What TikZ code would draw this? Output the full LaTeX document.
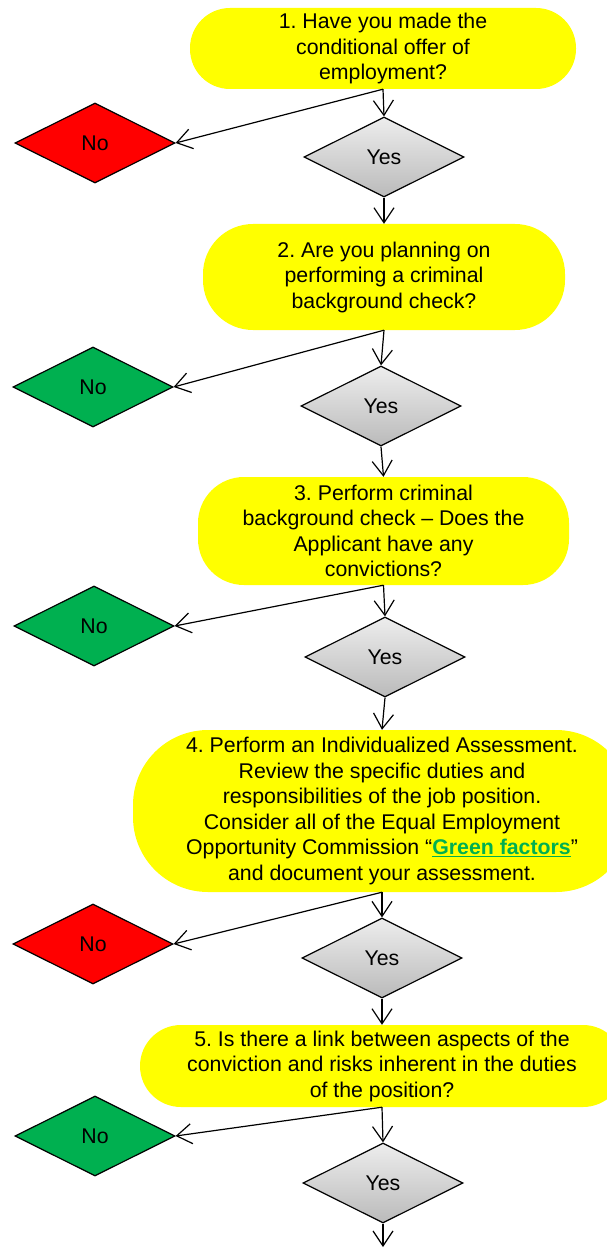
\documentclass[tikz,border=0pt]{standalone}
\usepackage{fontspec}
\setmainfont{Liberation Sans}
\usetikzlibrary{shapes.geometric,arrows.meta}
\definecolor{qyellow}{HTML}{FFFF00}
\definecolor{nored}{HTML}{FF0000}
\definecolor{nogreen}{HTML}{00B050}
\definecolor{linkgreen}{HTML}{00B050}
\frenchspacing
\tikzset{
  txt/.style={font=\fontsize{21.3}{25.5}\selectfont},
  question/.style={txt, fill=qyellow, align=center, inner sep=0pt, rectangle},
  dia/.style={txt, diamond, draw=black, line width=1.2pt, minimum width=160pt, minimum height=80pt, inner sep=0pt, aspect=2},
  yesbox/.style={dia, top color=black!7, bottom color=black!27},
  noredbox/.style={dia, fill=nored},
  nogreenbox/.style={dia, fill=nogreen},
  conn/.style={line width=1.2pt, -{Straight Barb[length=15pt,width=20pt,line width=1.2pt]}}
}
\begin{document}
\begin{tikzpicture}[x=1pt,y=-1pt]
\useasboundingbox (0,0) rectangle (607,1249);
\fill[white] (0,0) rectangle (607,1249);
\clip (0,0) rectangle (607,1249);

% questions
\node[question, minimum width=386pt, minimum height=81pt, rounded corners=40pt] (s1) at (383,48.5)
  {1. Have you made the\\conditional offer of\\employment?};
\node[question, minimum width=362pt, minimum height=106pt, rounded corners=50pt] (s2) at (384,277)
  {2. Are you planning on\\performing a criminal\\background check?};
\node[question, minimum width=371pt, minimum height=108pt, rounded corners=46pt] (s3) at (383.5,531)
  {3. Perform criminal\\background check – Does the\\Applicant have any\\convictions?};
\node[question, minimum width=498pt, minimum height=162pt, rounded corners=75pt] (s4) at (382,811)
  {4. Perform an Individualized Assessment.\\Review the specific duties and\\responsibilities of the job position.\\Consider all of the Equal Employment\\Opportunity Commission “\textcolor{linkgreen}{\textbf{\underline{Green factors}}}”\\and document your assessment.};
\node[question, minimum width=484pt, minimum height=82pt, rounded corners=41pt] (s5) at (382,1066)
  {5. Is there a link between aspects of the\\conviction and risks inherent in the duties\\of the position?};

% diamonds
\node[noredbox] (n1) at (95,143) {No};
\node[yesbox] (y1) at (384,157) {Yes};
\node[nogreenbox] (n2) at (93,387) {No};
\node[yesbox] (y2) at (381,406) {Yes};
\node[nogreenbox] (n3) at (94,626) {No};
\node[yesbox] (y3) at (385,657) {Yes};
\node[noredbox] (n4) at (93,944) {No};
\node[yesbox] (y4) at (382,958) {Yes};
\node[nogreenbox] (n5) at (95,1136) {No};
\node[yesbox] (y5) at (383,1183) {Yes};
\coordinate (end) at (383,1247);

% connectors
\draw[conn] (s1.south) -- (y1.north);
\draw[conn] (s1.south) -- (n1.east);
\draw[conn] (y1.south) -- (s2.north);
\draw[conn] (s2.south) -- (y2.north);
\draw[conn] (s2.south) -- (n2.east);
\draw[conn] (y2.south) -- (s3.north);
\draw[conn] (s3.south) -- (y3.north);
\draw[conn] (s3.south) -- (n3.east);
\draw[conn] (y3.south) -- (s4.north);
\draw[conn] (s4.south) -- (y4.north);
\draw[conn] (s4.south) -- (n4.east);
\draw[conn] (y4.south) -- (s5.north);
\draw[conn] (s5.south) -- (y5.north);
\draw[conn] (s5.south) -- (n5.east);
\draw[conn] (y5.south) -- (end);
\end{tikzpicture}
\end{document}
